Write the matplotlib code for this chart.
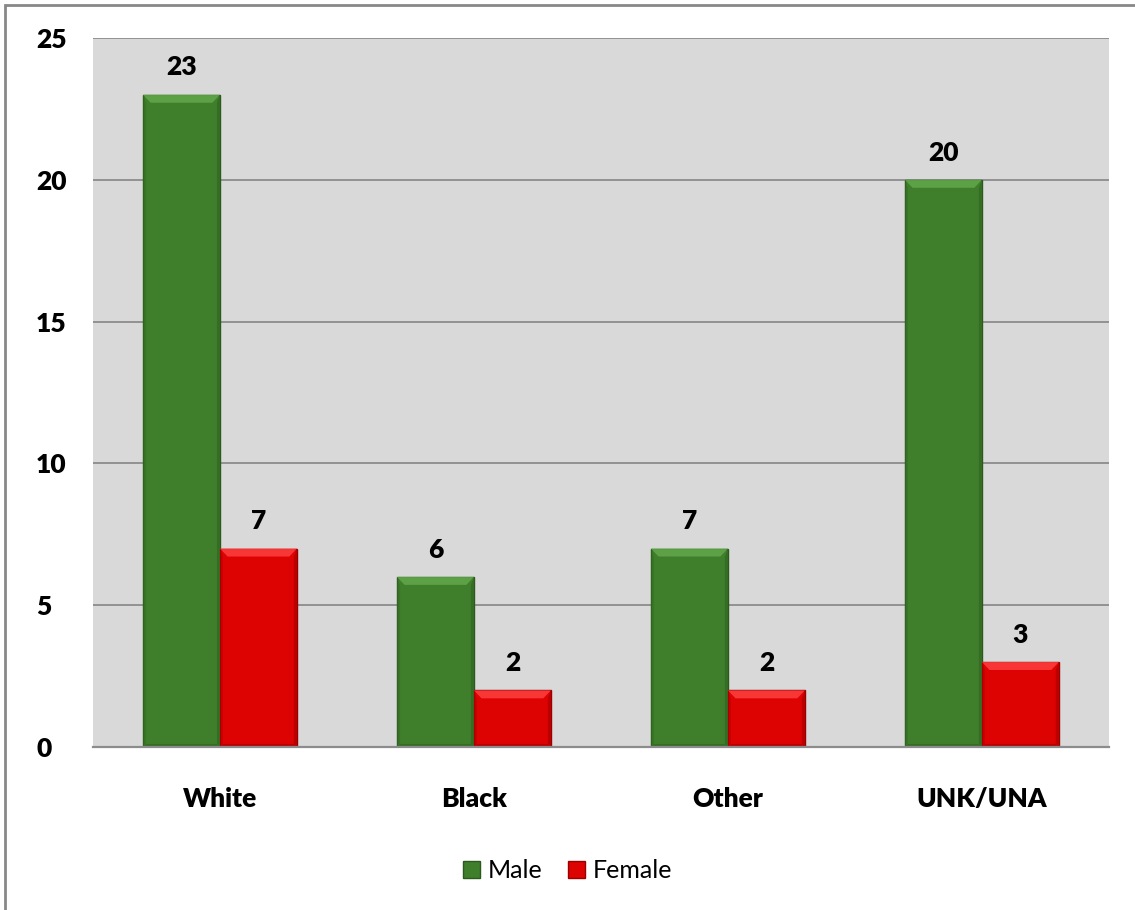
import numpy as np
import matplotlib.pyplot as plt
from matplotlib.patches import Rectangle, Polygon

categories = ["White", "Black", "Other", "UNK/UNA"]
male = [23, 6, 7, 20]
female = [7, 2, 2, 3]
y_ticks = [0, 5, 10, 15, 20, 25]

green = "#3f7f2b"
green_edge = "#2b5a1c"
red = "#dd0303"
red_edge = "#9a0000"

plt.rcParams["font.family"] = ["Lato", "DejaVu Sans"]

fig = plt.figure(figsize=(11.35, 9.1), dpi=100)
ax = fig.add_axes([0.0819, 0.179, 0.8951, 0.7792])

x = np.arange(len(categories))
w = 0.303

ax.set_facecolor("#d9d9d9")
for t in y_ticks[1:]:
    ax.axhline(t, color="#8c8c8c", lw=1.3, zorder=1)

bars_m = ax.bar(x - w / 2, male, w, color=green, edgecolor=green_edge,
                linewidth=1.0, zorder=3, label="Male")
bars_f = ax.bar(x + w / 2, female, w, color=red, edgecolor=red_edge,
                linewidth=1.0, zorder=3, label="Female")

# bevelled look: light top face, darker sides and bottom
bx_d, by_d = 0.03, 0.28
for bars, hi, lo in ((bars_m, "#62a84a", "#356c24"), (bars_f, "#ff4040", "#b80000")):
    for b in bars:
        x0, x1, h = b.get_x(), b.get_x() + b.get_width(), b.get_height()
        ax.add_patch(Polygon([(x0, h), (x1, h), (x1 - bx_d, h - by_d), (x0 + bx_d, h - by_d)],
                             closed=True, color=hi, alpha=0.85, lw=0, zorder=4))
        ax.add_patch(Polygon([(x1, h), (x1, 0), (x1 - bx_d * 0.4, by_d * 0.4),
                              (x1 - bx_d * 0.4, h - by_d)],
                             closed=True, color=lo, alpha=0.9, lw=0, zorder=4))
        ax.add_patch(Polygon([(x0, 0), (x1, 0), (x1 - bx_d * 0.4, by_d * 0.4),
                              (x0 + bx_d * 0.4, by_d * 0.4)],
                             closed=True, color=lo, alpha=0.9, lw=0, zorder=4))
        ax.add_patch(Polygon([(x0, 0), (x0, h), (x0 + bx_d * 0.4, h - by_d),
                              (x0 + bx_d * 0.4, by_d * 0.4)],
                             closed=True, color=lo, alpha=0.5, lw=0, zorder=4))

for bars in (bars_m, bars_f):
    for b in bars:
        ax.annotate(f"{b.get_height():g}", (b.get_x() + b.get_width() / 2, b.get_height()),
                    xytext=(0, 11), textcoords="offset points", ha="center", va="bottom",
                    fontsize=19, fontweight="heavy", color="black")

ax.set_xlim(-0.5, len(categories) - 0.5)
ax.set_ylim(0, 25)
ax.set_yticks(y_ticks)
ax.set_yticklabels([str(t) for t in y_ticks], fontsize=19, fontweight="heavy", ha="left")
ax.set_xticks(x)
ax.set_xticklabels(categories, fontsize=19, fontweight="heavy")
ax.tick_params(axis="both", length=0)
ax.tick_params(axis="y", pad=41)
ax.tick_params(axis="x", pad=29)
for s in ("left", "right", "top"):
    ax.spines[s].set_visible(False)
ax.spines["bottom"].set_color("#8c8c8c")
ax.spines["bottom"].set_linewidth(1.6)
ax.spines["bottom"].set_zorder(5)

fig.legend(handles=[bars_m, bars_f], labels=["Male", "Female"], loc="center",
           bbox_to_anchor=(0.5, 0.043), ncol=2, frameon=False, fontsize=18,
           handlelength=0.7, handleheight=0.7, handletextpad=0.3, columnspacing=1.0)

fig.patches.append(Rectangle((5 / 1135, -0.01), 1.02, 1 - 5 / 910 + 0.01,
                             transform=fig.transFigure, fill=False,
                             edgecolor="#888888", lw=2))

fig.savefig("out.png", dpi=100)
